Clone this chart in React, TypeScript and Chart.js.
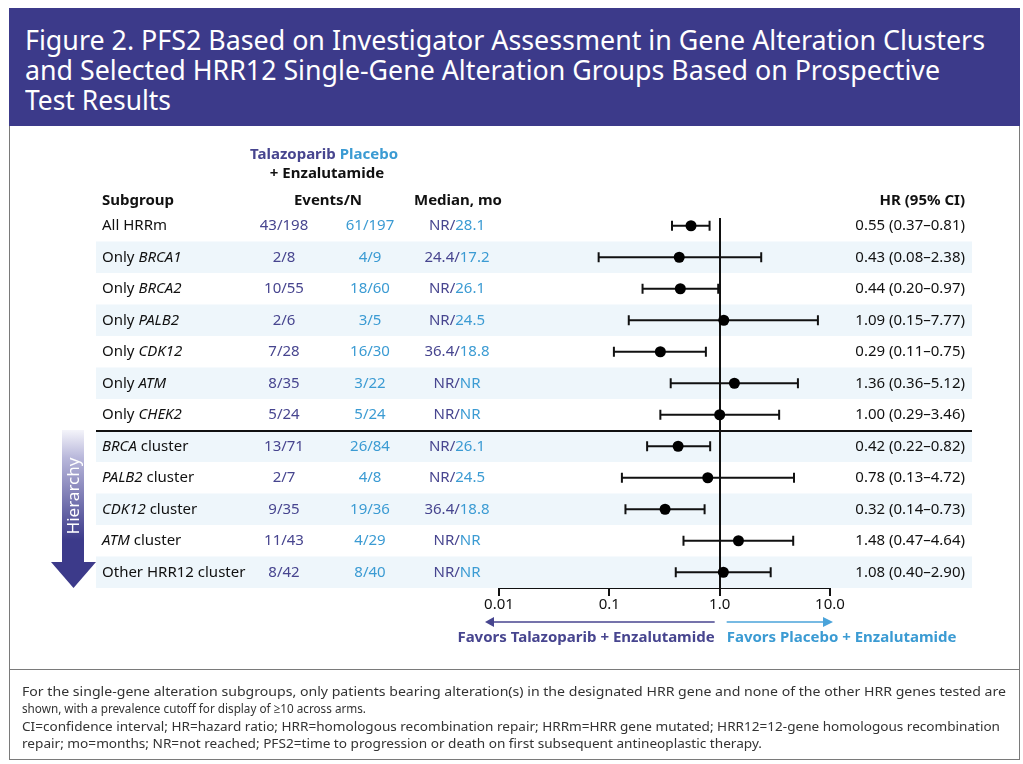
import React, { useEffect, useRef } from "react";
import { Chart, registerables } from "chart.js";

Chart.register(...registerables);

// ---------- DATA ----------
const subgroupPrefix = ["All HRRm", "Only ", "Only ", "Only ", "Only ", "Only ", "Only ", "", "", "", "", "Other HRR12 cluster"];
const subgroupGene = ["", "BRCA1", "BRCA2", "PALB2", "CDK12", "ATM", "CHEK2", "BRCA", "PALB2", "CDK12", "ATM", ""];
const subgroupSuffix = ["", "", "", "", "", "", "", " cluster", " cluster", " cluster", " cluster", ""];
const talEvents = ["43/198", "2/8", "10/55", "2/6", "7/28", "8/35", "5/24", "13/71", "2/7", "9/35", "11/43", "8/42"];
const plaEvents = ["61/197", "4/9", "18/60", "3/5", "16/30", "3/22", "5/24", "26/84", "4/8", "19/36", "4/29", "8/40"];
const talMedian = ["NR", "24.4", "NR", "NR", "36.4", "NR", "NR", "NR", "NR", "36.4", "NR", "NR"];
const plaMedian = ["28.1", "17.2", "26.1", "24.5", "18.8", "NR", "NR", "26.1", "24.5", "18.8", "NR", "NR"];
const hrValues = [0.55, 0.43, 0.44, 1.09, 0.29, 1.36, 1.0, 0.42, 0.78, 0.32, 1.48, 1.08];
const ciLow = [0.37, 0.08, 0.2, 0.15, 0.11, 0.36, 0.29, 0.22, 0.13, 0.14, 0.47, 0.4];
const ciHigh = [0.81, 2.38, 0.97, 7.77, 0.75, 5.12, 3.46, 0.82, 4.72, 0.73, 4.64, 2.9];
const tickValues = [0.01, 0.1, 1, 10];
const tickLabels = ["0.01", "0.1", "1.0", "10.0"];

const titleLines = [
  "Figure 2. PFS2 Based on Investigator Assessment in Gene Alteration Clusters",
  "and Selected HRR12 Single-Gene Alteration Groups Based on Prospective",
  "Test Results",
];
const titleWidths = [960, 915, 146];
const footParas = [
  [
    "For the single-gene alteration subgroups, only patients bearing alteration(s) in the designated HRR gene and none of the other HRR genes tested are",
    "shown, with a prevalence cutoff for display of \u226510 across arms.",
  ],
  [
    "CI=confidence interval; HR=hazard ratio; HRR=homologous recombination repair; HRRm=HRR gene mutated; HRR12=12-gene homologous recombination",
    "repair; mo=months; NR=not reached; PFS2=time to progression or death on first subsequent antineoplastic therapy.",
  ],
];
const footWidths = [984, 344, 978, 740];

const INDIGO = "#3c3a8a";
const INDIGO_TXT = "#47458f";
const BLUE_TXT = "#3b9bd3";
const BAND = "#eef6fb";
const FF = '"Noto Sans", "Open Sans", sans-serif';

const tablePlugin = {
  id: "forestTable",
  beforeDatasetsDraw(chart: any) {
    const { ctx, chartArea, scales } = chart;
    const y = scales.y;
    const x = scales.x;
    const bandL = 96;
    const bandR = 972;
    ctx.save();
    ctx.fillStyle = BAND;
    for (let i = 0; i < hrValues.length; i++) {
      if (i % 2 === 1) {
        const t = y.getPixelForValue(i - 0.5);
        const b = y.getPixelForValue(i + 0.5);
        ctx.fillRect(bandL, t, bandR - bandL, b - t);
      }
    }
    ctx.strokeStyle = "#111";
    ctx.lineWidth = 2;
    const sy = Math.round(y.getPixelForValue(6.5));
    ctx.beginPath();
    ctx.moveTo(bandL, sy);
    ctx.lineTo(bandR, sy);
    ctx.stroke();
    const rx = Math.round(x.getPixelForValue(1));
    ctx.beginPath();
    ctx.moveTo(rx, chartArea.top + 8);
    ctx.lineTo(rx, chartArea.bottom);
    ctx.stroke();
    ctx.restore();
  },
  afterDraw(chart: any) {
    const { ctx, scales } = chart;
    const y = scales.y;
    const x = scales.x;
    ctx.save();
    ctx.textBaseline = "middle";
    const reg = `15px ${FF}`;
    const ital = `italic 15px ${FF}`;
    const bold = `bold 15px ${FF}`;
    ctx.font = bold;
    const t1 = "Talazoparib ";
    const t2 = "Placebo";
    const w1 = ctx.measureText(t1).width;
    const w2 = ctx.measureText(t2).width;
    const sx = 324 - (w1 + w2) / 2;
    ctx.textAlign = "left";
    ctx.fillStyle = INDIGO_TXT;
    ctx.fillText(t1, sx, 155);
    ctx.fillStyle = BLUE_TXT;
    ctx.fillText(t2, sx + w1, 155);
    ctx.fillStyle = "#111";
    ctx.textAlign = "center";
    ctx.fillText("+ Enzalutamide", 327, 174);
    ctx.textAlign = "left";
    ctx.fillText("Subgroup", 102, 201);
    ctx.textAlign = "center";
    ctx.fillText("Events/N", 328, 201);
    ctx.fillText("Median, mo", 458, 201);
    ctx.textAlign = "right";
    ctx.fillText("HR (95% CI)", 965, 201);

    for (let i = 0; i < hrValues.length; i++) {
      const py = y.getPixelForValue(i);
      ctx.textAlign = "left";
      ctx.fillStyle = "#111";
      let cx = 102;
      if (subgroupPrefix[i]) {
        ctx.font = reg;
        ctx.fillText(subgroupPrefix[i], cx, py);
        cx += ctx.measureText(subgroupPrefix[i]).width;
      }
      if (subgroupGene[i]) {
        ctx.font = ital;
        ctx.fillText(subgroupGene[i], cx, py);
        cx += ctx.measureText(subgroupGene[i]).width;
      }
      if (subgroupSuffix[i]) {
        ctx.font = reg;
        ctx.fillText(subgroupSuffix[i], cx, py);
      }
      ctx.font = reg;
      ctx.textAlign = "center";
      ctx.fillStyle = INDIGO_TXT;
      ctx.fillText(talEvents[i], 284, py);
      ctx.fillStyle = BLUE_TXT;
      ctx.fillText(plaEvents[i], 370, py);
      const m1 = talMedian[i] + "/";
      const m2 = plaMedian[i];
      const mw1 = ctx.measureText(m1).width;
      const mw2 = ctx.measureText(m2).width;
      const ms = 457 - (mw1 + mw2) / 2;
      ctx.textAlign = "left";
      ctx.fillStyle = INDIGO_TXT;
      ctx.fillText(m1, ms, py);
      ctx.fillStyle = BLUE_TXT;
      ctx.fillText(m2, ms + mw1, py);
      ctx.textAlign = "right";
      ctx.fillStyle = "#111";
      ctx.fillText(
        `${hrValues[i].toFixed(2)} (${ciLow[i].toFixed(2)}\u2013${ciHigh[i].toFixed(2)})`,
        965,
        py
      );
    }

    const x0 = x.getPixelForValue(0.01);
    const x1 = x.getPixelForValue(1);
    const x10 = x.getPixelForValue(10);
    const ay = 622;
    ctx.lineWidth = 1.5;
    ctx.strokeStyle = INDIGO_TXT;
    ctx.fillStyle = INDIGO_TXT;
    ctx.beginPath();
    ctx.moveTo(x1 - 5, ay);
    ctx.lineTo(x0 - 8, ay);
    ctx.stroke();
    ctx.beginPath();
    ctx.moveTo(x0 - 14, ay);
    ctx.lineTo(x0 - 5, ay - 5);
    ctx.lineTo(x0 - 5, ay + 5);
    ctx.closePath();
    ctx.fill();
    ctx.strokeStyle = "#4aa3da";
    ctx.fillStyle = "#4aa3da";
    ctx.beginPath();
    ctx.moveTo(x1 + 7, ay);
    ctx.lineTo(x10 - 6, ay);
    ctx.stroke();
    ctx.beginPath();
    ctx.moveTo(x10 + 3, ay);
    ctx.lineTo(x10 - 7, ay - 5);
    ctx.lineTo(x10 - 7, ay + 5);
    ctx.closePath();
    ctx.fill();
    ctx.font = bold;
    ctx.textAlign = "right";
    ctx.fillStyle = INDIGO_TXT;
    ctx.fillText("Favors Talazoparib + Enzalutamide", x1 - 5, 638);
    ctx.textAlign = "left";
    ctx.fillStyle = BLUE_TXT;
    ctx.fillText("Favors Placebo + Enzalutamide", x1 + 7, 638);

    const top = 430;
    const headY = 562;
    const tip = 588;
    const g = ctx.createLinearGradient(0, top, 0, 540);
    g.addColorStop(0, "#f4f4fa");
    g.addColorStop(0.25, "#b9b8db");
    g.addColorStop(1, INDIGO);
    ctx.fillStyle = g;
    ctx.fillRect(62, top, 22, headY - top);
    ctx.fillStyle = INDIGO;
    ctx.beginPath();
    ctx.moveTo(51, headY);
    ctx.lineTo(96, headY);
    ctx.lineTo(73.5, tip);
    ctx.closePath();
    ctx.fill();
    ctx.save();
    ctx.translate(74, 496);
    ctx.rotate(-Math.PI / 2);
    ctx.font = `17px ${FF}`;
    ctx.fillStyle = "#fff";
    ctx.textAlign = "center";
    ctx.textBaseline = "middle";
    ctx.fillText("Hierarchy", 0, 0);
    ctx.restore();
    ctx.restore();
  },
};

export default function App() {
  const canvasRef = useRef<HTMLCanvasElement | null>(null);
  const titleRef = useRef<HTMLDivElement | null>(null);
  const footRef = useRef<HTMLDivElement | null>(null);

  useEffect(() => {
    const canvas = canvasRef.current;
    if (!canvas) return;
    const ciSets = hrValues.map((_, i) => ({
      type: "scatter" as const,
      data: [
        { x: ciLow[i], y: i },
        { x: ciHigh[i], y: i },
      ],
      showLine: true,
      borderColor: "#111",
      borderWidth: 2,
      pointStyle: "line",
      rotation: 90,
      pointRadius: 5,
      pointBorderWidth: 2,
      pointBorderColor: "#111",
      pointBackgroundColor: "#111",
      order: 2,
    }));
    const chart = new Chart(canvas, {
      type: "scatter",
      data: {
        datasets: [
          ...ciSets,
          {
            data: hrValues.map((v, i) => ({ x: v, y: i })),
            pointRadius: 5.5,
            pointBackgroundColor: "#000",
            pointBorderWidth: 0,
            order: 1,
          } as any,
        ],
      },
      options: {
        animation: false,
        responsive: false,
        devicePixelRatio: 1,
        layout: { padding: { left: 499, right: 193, top: 210, bottom: 146 } },
        plugins: { legend: { display: false }, tooltip: { enabled: false } },
        scales: {
          x: {
            type: "logarithmic",
            min: 0.01,
            max: 10,
            afterBuildTicks: (s: any) => {
              s.ticks = tickValues.map((v) => ({ value: v }));
            },
            afterFit: (s: any) => {
              s.height = 30;
            },
            ticks: {
              autoSkip: false,
              maxRotation: 0,
              padding: 0,
              color: "#111",
              font: { family: FF, size: 15 },
              callback: (_v: any, i: number) => tickLabels[i],
            },
            grid: { drawOnChartArea: false, drawTicks: true, tickLength: 8, color: "#111", lineWidth: 2 },
            border: { display: true, color: "#111", width: 2 },
          },
          y: { type: "linear", min: -0.5, max: 11.5, reverse: true, display: false },
        },
      } as any,
      plugins: [tablePlugin],
    });

    const fit = (el: HTMLElement | null, targets: number[]) => {
      if (!el) return;
      const spans = Array.from(el.querySelectorAll("span")) as HTMLElement[];
      spans.forEach((s, i) => {
        const w = s.getBoundingClientRect().width;
        if (w > 0 && targets[i]) s.style.transform = `scaleX(${targets[i] / w})`;
      });
    };
    fit(titleRef.current, titleWidths);
    fit(footRef.current, footWidths);

    return () => chart.destroy();
  }, []);

  return (
    <div style={{ position: "absolute", left: 0, top: 0, width: 1023, height: 764, background: "#fff", fontFamily: FF }}>
      <canvas ref={canvasRef} width={1023} height={764} style={{ position: "absolute", left: 0, top: 0 }} />
      <div
        style={{
          position: "absolute",
          left: 9,
          top: 8,
          width: 1011,
          height: 752,
          boxSizing: "border-box",
          border: "1.5px solid #7a7a7a",
          pointerEvents: "none",
        }}
      />
      <div
        ref={titleRef}
        style={{
          position: "absolute",
          left: 9,
          top: 8,
          width: 1011,
          height: 118,
          background: INDIGO,
          color: "#fff",
          boxSizing: "border-box",
          padding: "16px 0 0 16px",
          fontSize: 28,
          lineHeight: "30px",
        }}
      >
        {titleLines.map((l, i) => (
          <div key={i} style={{ whiteSpace: "nowrap" }}>
            <span style={{ display: "inline-block", transformOrigin: "0 0" }}>{l}</span>
          </div>
        ))}
      </div>
      <div style={{ position: "absolute", left: 9, top: 669, width: 1011, borderTop: "1.5px solid #7a7a7a" }} />
      <div
        ref={footRef}
        style={{ position: "absolute", left: 22, top: 683, color: "#333", fontSize: 13, lineHeight: "16.5px" }}
      >
        {footParas.map((p, i) => (
          <div key={i} style={{ marginBottom: 2 }}>
            {p.map((l, j) => (
              <div key={j} style={{ whiteSpace: "nowrap" }}>
                <span style={{ display: "inline-block", transformOrigin: "0 0" }}>{l}</span>
              </div>
            ))}
          </div>
        ))}
      </div>
    </div>
  );
}
